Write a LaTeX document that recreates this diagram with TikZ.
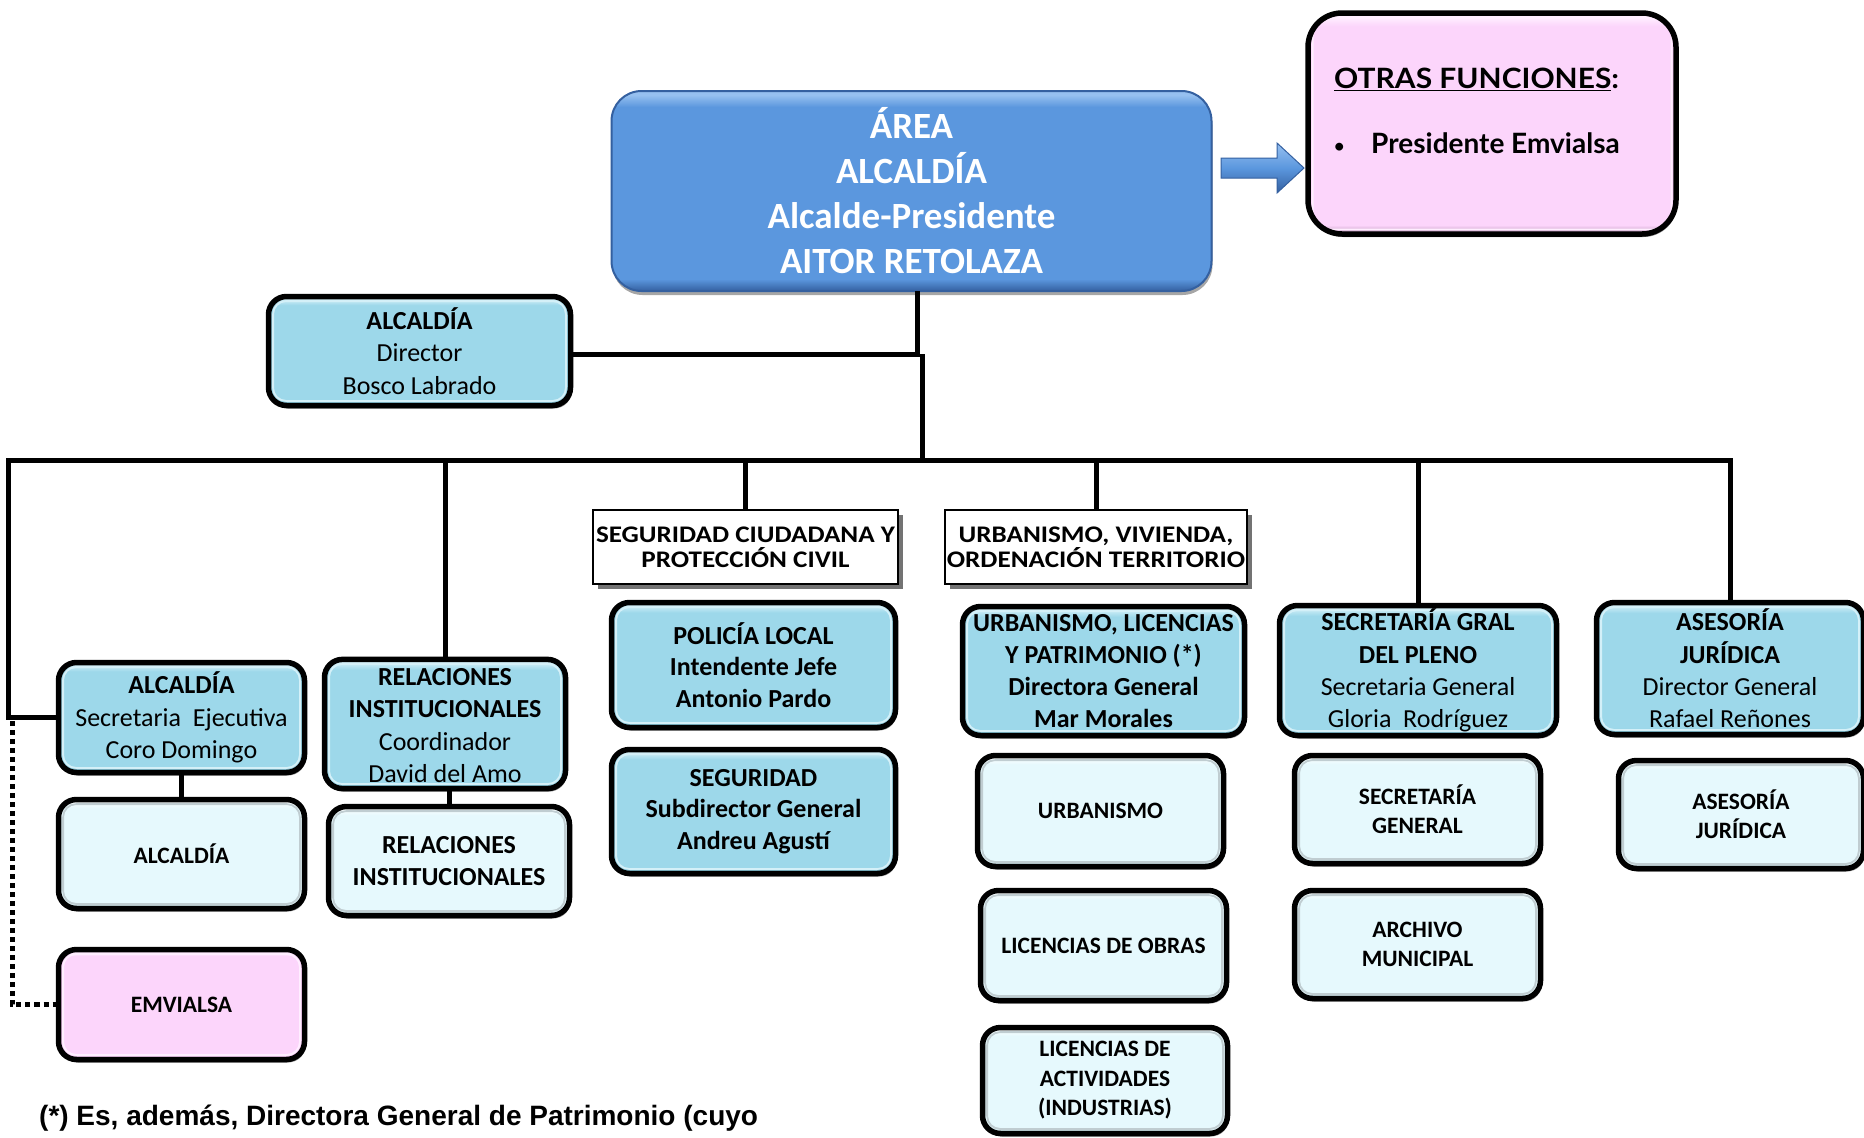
\documentclass[tikz,border=0pt]{standalone}
\usepackage{fontspec}
\setmainfont{Carlito}
\newfontfamily\hdrfont[FakeStretch=1.14]{Carlito}
\newfontfamily\gillfont[FakeStretch=1.07]{Lato}
\newfontfamily\gillplain{Lato}
\newfontfamily\arialfont{Liberation Sans}
\usetikzlibrary{shadows}

\definecolor{bbBase}{RGB}{157,216,234}
\definecolor{bbLight}{RGB}{212,240,248}
\definecolor{bbDark}{RGB}{96,158,176}
\definecolor{lbBase}{RGB}{230,249,253}
\definecolor{lbLight}{RGB}{252,255,255}
\definecolor{lbDark}{RGB}{150,172,178}
\definecolor{pkBase}{RGB}{252,213,251}
\definecolor{pkLight}{RGB}{255,238,255}
\definecolor{pkDark}{RGB}{178,140,176}
\definecolor{mbBase}{RGB}{91,151,222}
\definecolor{mbLight}{RGB}{150,192,240}
\definecolor{mbDark}{RGB}{52,96,160}

\pgfdeclareverticalshading{glossbb}{100bp}{color(0bp)=(bbDark); color(25bp)=(bbDark); color(27.5bp)=(bbBase); color(71bp)=(bbBase); color(74bp)=(bbLight); color(100bp)=(bbLight)}
\pgfdeclareverticalshading{glosslb}{100bp}{color(0bp)=(lbDark); color(25bp)=(lbDark); color(27.5bp)=(lbBase); color(71bp)=(lbBase); color(74bp)=(lbLight); color(100bp)=(lbLight)}
\pgfdeclareverticalshading{glosspk}{100bp}{color(0bp)=(pkDark); color(25bp)=(pkDark); color(27bp)=(pkBase); color(72bp)=(pkBase); color(74bp)=(pkLight); color(100bp)=(pkLight)}
\pgfdeclareverticalshading{glossmb}{100bp}{color(0bp)=(mbDark); color(25bp)=(mbDark); color(28bp)=(mbBase); color(71bp)=(mbBase); color(74bp)=(mbLight); color(100bp)=(mbLight)}

\tikzset{
  bevelline/.style={line width=1.8, rounded corners=13},
  bevel/.style={path picture={\draw[bevelline, draw=#1]
      ([xshift=4.6pt,yshift=-4.6pt]path picture bounding box.north west) rectangle
      ([xshift=-4.6pt,yshift=4.6pt]path picture bounding box.south east);}},
  box/.style={draw=black, line width=5.5, rounded corners=18, align=center,
    inner sep=0pt, outer sep=0pt, text=black, shade,
    drop shadow={shadow xshift=1.5pt, shadow yshift=-3pt, opacity=0.45, fill=black}},
  bb/.style={box, shading=glossbb, bevel=bbLight, font=\fontsize{26}{32.3}\selectfont},
  lb/.style={box, shading=glosslb, bevel=lbDark!60, font=\bfseries\fontsize{23.5}{29}\selectfont},
  pk/.style={box, shading=glosspk, bevel=pkLight, font=\bfseries\fontsize{23.5}{29}\selectfont},
  mainbox/.style={draw=mbDark, line width=2, rounded corners=30, shade, shading=glossmb,
    align=center, inner sep=0pt, outer sep=0pt, text=white,
    font=\bfseries\fontsize{37}{45}\selectfont,
    drop shadow={shadow xshift=1pt, shadow yshift=-4pt, opacity=0.35, fill=black}},
  hdr/.style={draw=black, line width=2, fill=white, align=center, inner sep=0pt, outer sep=0pt,
    font=\hdrfont\bfseries\fontsize{23.8}{25}\selectfont,
    drop shadow={shadow xshift=5pt, shadow yshift=-5pt, opacity=0.55, fill=black}},
  conn/.style={draw=black, line width=5},
  dotline/.style={draw=black, line width=5, dash pattern=on 5 off 4},
}

\begin{document}
\begin{tikzpicture}[x=1pt,y=-1pt]
\useasboundingbox (0,0) rectangle (1864,1138);

% top level
\node[mainbox, minimum width=600, minimum height=200] (main) at (911.5,191)
  {ÁREA\\ALCALDÍA\\Alcalde-Presidente\\AITOR RETOLAZA};
\node[box, shading=glosspk, rounded corners=34, bevel=pkLight, minimum width=368, minimum height=221] (otras) at (1492,123.5) {};
\node[anchor=west, inner sep=0pt, font=\gillfont\bfseries\fontsize{28}{30}\selectfont] (ot1) at (1334,79)
  {\underline{OTRAS FUNCIONES}:};
\node[anchor=west, inner sep=0pt, font=\gillplain\bfseries\fontsize{28}{30}\selectfont] (ot2) at (1334,143)
  {\makebox[37pt][l]{\raisebox{1pt}{\fontsize{18}{20}\selectfont•}}Presidente Emvialsa};

% arrow main -> otras
\coordinate (a1) at (1221,168);
\coordinate (a2) at (1304,168);
\shade[top color=mbLight, bottom color=mbDark, middle color=mbBase, draw=mbDark, line width=1]
  ([yshift=10pt]a1) -- ([xshift=-27pt,yshift=10pt]a2) -- ([xshift=-27pt,yshift=25pt]a2) -- (a2)
  -- ([xshift=-27pt,yshift=-25pt]a2) -- ([xshift=-27pt,yshift=-10pt]a2) -- ([yshift=-10pt]a1) -- cycle;

\node[bb, minimum width=302, minimum height=109] (dir) at (419.5,351)
  {\textbf{ALCALDÍA}\\Director\\Bosco Labrado};

% column 1
\node[bb, minimum width=246, minimum height=110] (sec) at (181.5,717.5)
  {\textbf{ALCALDÍA}\\Secretaria\ \ Ejecutiva\\Coro Domingo};
\node[lb, minimum width=246, minimum height=109] (alc) at (181.5,854) {ALCALDÍA};
\node[pk, minimum width=246, minimum height=110] (emv) at (181.5,1004.5) {EMVIALSA};

% column 2
\node[bb, minimum width=241, minimum height=121] (rel) at (445,724)
  {\raisebox{-3.6pt}[\height][\depth]{\begin{tabular}{@{}c@{}}\textbf{RELACIONES}\\\textbf{INSTITUCIONALES}\\Coordinador\\David del Amo\end{tabular}}};
\node[lb, minimum width=241, minimum height=109, font=\bfseries\fontsize{26}{32}\selectfont] (rel2) at (449,861)
  {RELACIONES\\INSTITUCIONALES};

% column 3
\node[hdr, minimum width=305, minimum height=74] (hdr1) at (745.5,547)
  {SEGURIDAD CIUDADANA Y\\PROTECCIÓN CIVIL};
\node[bb, minimum width=284, minimum height=125, font=\bfseries\fontsize{26}{31.7}\selectfont] (pol) at (753.5,665)
  {POLICÍA LOCAL\\Intendente Jefe\\Antonio Pardo};
\node[bb, minimum width=284, minimum height=124, font=\bfseries\fontsize{26}{31.7}\selectfont] (seg) at (753.5,811.5)
  {SEGURIDAD\\Subdirector General\\Andreu Agustí};

% column 4
\node[hdr, minimum width=302, minimum height=74] (hdr2) at (1096,547)
  {URBANISMO, VIVIENDA,\\ORDENACIÓN TERRITORIO};
\node[bb, minimum width=282, minimum height=129, font=\bfseries\fontsize{26}{32}\selectfont] (urb) at (1103.5,671)
  {URBANISMO, LICENCIAS\\Y PATRIMONIO (*)\\Directora General\\Mar Morales};
\node[lb, minimum width=246, minimum height=111] (urb1) at (1100.5,811) {URBANISMO};
\node[lb, minimum width=246, minimum height=110] (urb2) at (1103.5,945.5) {LICENCIAS DE OBRAS};
\node[lb, minimum width=245, minimum height=106, font=\bfseries\fontsize{23.5}{29.5}\selectfont] (urb3) at (1105,1080.5)
  {LICENCIAS DE\\ACTIVIDADES\\(INDUSTRIAS)};

% column 5
\node[bb, minimum width=277, minimum height=130] (sg) at (1418,670.5)
  {\textbf{SECRETARÍA GRAL}\\\textbf{DEL PLENO}\\Secretaria General\\Gloria\ \ Rodríguez};
\node[lb, minimum width=246, minimum height=108] (sg1) at (1417.5,809.5) {SECRETARÍA\\GENERAL};
\node[lb, minimum width=246, minimum height=108] (sg2) at (1417.5,944.5) {ARCHIVO\\MUNICIPAL};

% column 6
\node[bb, minimum width=267, minimum height=132] (as) at (1730,668.5)
  {\textbf{ASESORÍA}\\\textbf{JURÍDICA}\\Director General\\Rafael Reñones};
\node[lb, minimum width=245, minimum height=108] (as1) at (1741,814.5) {ASESORÍA\\JURÍDICA};

% footnote
\node[anchor=base west, inner sep=0pt, font=\arialfont\bfseries\fontsize{28}{30}\selectfont] (note) at (39,1125)
  {(*) Es, además, Directora General de Patrimonio (cuyo};

% connectors
\coordinate (j1) at (917,354);
\coordinate (j2) at (922,354);
\coordinate (busL) at (8,460);
\coordinate (busM) at (922,460);
\coordinate (busR) at (as.north |- busL);
\draw[conn] (main.south -| j1) -- (j1) -- (j1 -| dir.east);
\draw[conn] (j2) -- (busM);
\draw[conn] (sec.west) -| (busL) -- (busR) -- (as.north);
\draw[conn] (rel.north |- busL) -- (rel.north);
\draw[conn] (hdr1.north |- busL) -- (hdr1.north);
\draw[conn] (hdr2.north |- busL) -- (hdr2.north);
\draw[conn] (sg.north |- busL) -- (sg.north);
\draw[conn] (sec.south) -- (alc.north);
\draw[conn] (rel2.north |- rel.south) -- (rel2.north);
\coordinate (d1) at (12,721);
\draw[dotline] (d1) |- (emv.west);
\end{tikzpicture}
\end{document}
